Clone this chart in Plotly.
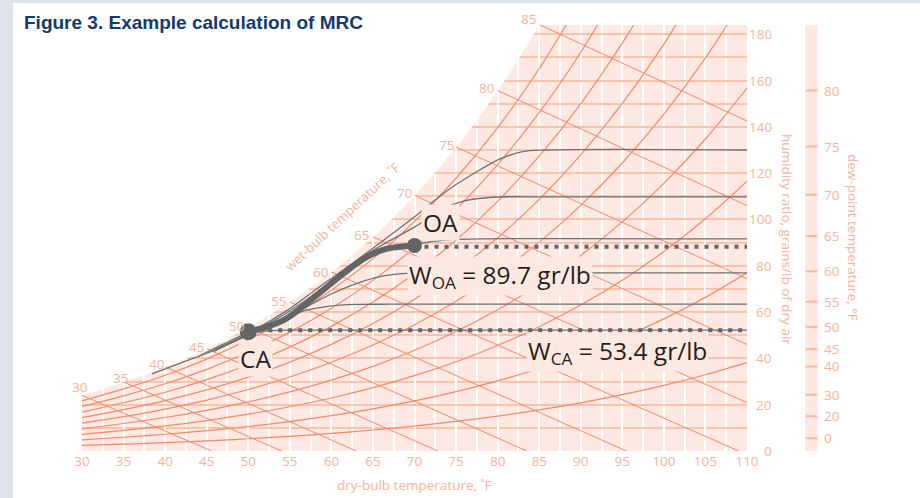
import plotly.graph_objects as go

# ---------------- data ----------------
# saturation vapour pressure table (psia) at the chart's dry-bulb grid temperatures
table_T = [30, 35, 40, 45, 50, 55, 60, 65, 70, 75, 80, 85, 90, 95, 100, 105, 110]
table_pws = [0.08077, 0.09998, 0.12173, 0.14756, 0.17812, 0.21413, 0.25638, 0.30578,
             0.36334, 0.43016, 0.50745, 0.59659, 0.69904, 0.81640, 0.95044, 1.1031, 1.2766]
P_atm = 14.696
rh_levels = [0.1, 0.2, 0.3, 0.4, 0.5, 0.6, 0.7, 0.8, 0.9]

# wet-bulb lines: start on saturation curve, end points
wb_T = [30, 35, 40, 45, 50, 55, 60, 65, 70, 75, 80, 85]
wb_end_T = [45.6, 54.0, 63.0, 72.8, 83.5, 95.5, 109.0, 110, 110, 110, 110, 110]
wb_end_W = [0, 0, 0, 0, 0, 0, 0, 20.9, 46.0, 74.4, 106.0, 142.5]

# axes
x_ticks = [30, 35, 40, 45, 50, 55, 60, 65, 70, 75, 80, 85, 90, 95, 100, 105, 110]
w_ticks = [0, 20, 40, 60, 80, 100, 120, 140, 160, 180]
dp_ticks = [0, 20, 30, 40, 45, 50, 55, 60, 65, 70, 75, 80]
dp_tick_W = [5.5, 15.0, 24.3, 36.5, 44.0, 53.6, 64.5, 77.6, 92.8, 110.7, 131.5, 155.7]

# process CA -> OA
ca_T, ca_W = 50, 51.5
oa_T, oa_W = 70, 88.8
ca_line_W = 52.2
oa_line_W = 88.2
ca_label_W = 53.4
oa_label_W = 89.7
proc_T = [50, 54.2, 58.2, 61.4, 64.2, 66.6, 70]
proc_W = [51.5, 56.4, 67.2, 76.5, 83.7, 87.3, 88.8]

# thin grey curves
g_curves = [
    ([44.0, 47.0, 50.0, 53.0, 56.0, 60.0, 110.0],
     [40.8, 46.2, 50.8, 52.0, 52.2, 52.2, 52.2]),
    ([38.4, 42.0, 45.8, 49.4, 51.8, 54.5, 57.0, 59.8, 63.0, 67.0, 110.0],
     [33.3, 38.2, 43.3, 49.1, 53.0, 57.5, 60.8, 62.6, 63.3, 63.4, 63.4]),
    ([45.8, 49.0, 52.0, 54.5, 57.4, 59.8, 63.0, 66.0, 69.0, 73.0, 110.0],
     [42.9, 48.5, 53.5, 58.0, 63.0, 67.5, 72.3, 75.4, 76.7, 76.9, 76.9]),
    ([50.0, 54.0, 58.0, 62.0, 66.0, 70.0, 74.0, 78.0, 110.0],
     [51.0, 56.0, 66.5, 77.5, 86.0, 89.3, 91.2, 91.6, 91.6]),
    ([46.0, 50.0, 55.0, 59.0, 62.8, 66.5, 70.0, 73.4, 76.0, 79.4, 84.0, 110.0],
     [43.5, 50.3, 60.5, 70.5, 81.6, 89.8, 96.7, 104.5, 108.0, 109.6, 109.8, 109.8]),
    ([46.0, 50.0, 55.0, 59.0, 63.0, 67.0, 70.2, 72.0, 74.3, 77.9, 80.5, 83.0, 86.0, 110.0],
     [43.8, 50.8, 61.5, 72.0, 82.3, 93.0, 101.7, 107.0, 113.4, 121.5, 126.5, 129.3, 130.0, 130.0]),
]

# ---------------- styles ----------------
PEACH = "#fde9e1"
GRID_H = "#f9c4ae"
LINE_SAL = "#f4876a"
TXT_SAL = "#f6b39a"
GREY = "#6f7073"
DARK = "#636466"
FONT = "Open Sans"
W_MAX = 184


def w_of(rh, pws):
    pw = rh * pws
    return 7000 * 0.62198 * pw / (P_atm - pw)


sat_W = [w_of(1.0, p) for p in table_pws]

fig = go.Figure()

# white area above saturation curve (hides the grid there)
fig.add_trace(go.Scatter(x=[29, 91], y=[260, 260], mode="lines",
                         line=dict(width=0, color="white"), hoverinfo="skip"))
fig.add_trace(go.Scatter(x=table_T[:13], y=sat_W[:13], mode="lines",
                         line=dict(width=0.5, color="white", shape="spline"),
                         fill="tonexty", fillcolor="white", hoverinfo="skip"))

# relative humidity curves
for rh in rh_levels:
    xs, ys = [], []
    for t, p in zip(table_T, table_pws):
        w = w_of(rh, p)
        xs.append(t)
        ys.append(w)
        if w > W_MAX:
            break
    fig.add_trace(go.Scatter(x=xs, y=ys, mode="lines", hoverinfo="skip",
                             line=dict(color=LINE_SAL, width=1.2, shape="spline")))

# wet-bulb lines
for t, te, we in zip(wb_T, wb_end_T, wb_end_W):
    ws = sat_W[table_T.index(t)]
    fig.add_trace(go.Scatter(x=[t, te], y=[ws, we], mode="lines", hoverinfo="skip",
                             line=dict(color=LINE_SAL, width=1.0)))

# thin grey curves
for gx, gy in g_curves:
    fig.add_trace(go.Scatter(x=gx, y=gy, mode="lines", hoverinfo="skip",
                             line=dict(color=GREY, width=1.3, shape="spline")))

# dotted lines
fig.add_trace(go.Scatter(x=[ca_T, 110], y=[ca_line_W, ca_line_W], mode="lines",
                         line=dict(color=DARK, width=4, dash="4px,6px"), hoverinfo="skip"))
fig.add_trace(go.Scatter(x=[oa_T, 110], y=[oa_line_W, oa_line_W], mode="lines",
                         line=dict(color=DARK, width=4, dash="4px,6px"), hoverinfo="skip"))

# process curve
fig.add_trace(go.Scatter(x=proc_T, y=proc_W, mode="lines", hoverinfo="skip",
                         line=dict(color=DARK, width=6, shape="spline")))
fig.add_trace(go.Scatter(x=[ca_T], y=[ca_W], mode="markers", hoverinfo="skip",
                         marker=dict(color=DARK, size=17)))
fig.add_trace(go.Scatter(x=[oa_T], y=[oa_W], mode="markers", hoverinfo="skip",
                         marker=dict(color=DARK, size=15)))

ann = []
C = dict(xanchor="center", yanchor="middle")
# wet-bulb labels along saturation curve
wb_dx = [-2, -3, -8, -10, -11, -11, -10.5, -11, -9.5, -9.5, -11, -11]
wb_dy = [8, 4, 3, 2, 1, 1, 0.5, 2, 2, 2.5, 2, 5]
for t, dx, dy in zip(wb_T, wb_dx, wb_dy):
    w = sat_W[table_T.index(t)]
    ann.append(dict(x=(t - 30) / 80, y=w / W_MAX, xref="paper", yref="paper",
                    text=str(t), showarrow=False, xshift=dx, yshift=dy, **C,
                    font=dict(family=FONT, size=13.5, color=TXT_SAL)))

ann.append(dict(x=(342 - 82) / 665, y=(451 - 217) / 426, xref="paper", yref="paper",
                text="wet-bulb temperature, ˚F", textangle=-43, showarrow=False, **C,
                font=dict(family=FONT, size=13, color=TXT_SAL)))

# labels for points
lab_font = dict(family=FONT, size=24.5, color="#231f20")
ann.append(dict(x=73.1, y=98.5, text="OA", showarrow=False, bgcolor=PEACH,
                font=lab_font, borderpad=1, **C))
ann.append(dict(x=50.9, y=39.9, text="CA", showarrow=False, bgcolor=PEACH,
                font=lab_font, borderpad=1, **C))
ann.append(dict(x=80.3, y=75.6, text="W<sub>OA</sub> = %.1f gr/lb" % oa_label_W,
                showarrow=False, bgcolor=PEACH, font=lab_font, borderpad=1, **C))
ann.append(dict(x=94.4, y=42.8, text="W<sub>CA</sub> = %.1f gr/lb" % ca_label_W,
                showarrow=False, bgcolor=PEACH, font=lab_font, borderpad=1, **C))

# axis titles
ann.append(dict(x=0.5, y=(451 - 485) / 426, xref="paper", yref="paper",
                text="dry-bulb temperature, ˚F", showarrow=False, **C,
                font=dict(family=FONT, size=13.5, color=TXT_SAL)))
ann.append(dict(x=(787 - 82) / 665, y=(451 - 239) / 426, xref="paper", yref="paper",
                text="humidity ratio, grains/lb of dry air", textangle=90, showarrow=False, **C,
                font=dict(family=FONT, size=13.5, color=TXT_SAL)))
ann.append(dict(x=(853 - 82) / 665, y=(451 - 237) / 426, xref="paper", yref="paper",
                text="dew-point temperature, °F", textangle=90, showarrow=False, **C,
                font=dict(family=FONT, size=13.5, color=TXT_SAL)))

# humidity-ratio scale labels (right-aligned, placed on the y scale)
for v in w_ticks:
    ann.append(dict(x=(774 - 82) / 665, y=v, xref="paper", yref="y", text=str(v),
                    showarrow=False, xanchor="right", yanchor="middle",
                    font=dict(family=FONT, size=13.5, color=TXT_SAL)))

# dew-point scale labels
for d, w in zip(dp_ticks, dp_tick_W):
    ann.append(dict(x=(822 - 82) / 665, y=w, xref="paper", yref="y", text=str(d),
                    showarrow=False, xanchor="left", yanchor="middle",
                    font=dict(family=FONT, size=13.5, color=TXT_SAL)))

# title
ann.append(dict(x=(22 - 82) / 665, y=(451 - 22) / 426, xref="paper", yref="paper",
                text="<b>Figure 3. Example calculation of MRC</b>", showarrow=False,
                xanchor="left", yanchor="middle",
                font=dict(family="Liberation Sans, Arial", size=19, color="#123a72")))

shapes = []
# page edge strips
shapes.append(dict(type="rect", xref="paper", yref="paper", x0=-82 / 665, x1=(13 - 82) / 665,
                   y0=-47 / 426, y1=451 / 426, fillcolor="#dde4ed", line=dict(width=0)))
shapes.append(dict(type="rect", xref="paper", yref="paper", x0=-82 / 665, x1=838 / 665,
                   y0=(451 - 3) / 426, y1=451 / 426, fillcolor="#dde4ed", line=dict(width=0)))
# dew-point bar
shapes.append(dict(type="rect", xref="paper", yref="paper", x0=(805 - 82) / 665,
                   x1=(818 - 82) / 665, y0=0, y1=1, fillcolor=PEACH, line=dict(width=0)))
for w in dp_tick_W:
    shapes.append(dict(type="line", xref="paper", yref="y", x0=(806 - 82) / 665,
                       x1=(817 - 82) / 665, y0=w, y1=w, line=dict(color="#f8b89f", width=2)))

fig.update_layout(
    width=920, height=498,
    margin=dict(l=82, r=173, t=25, b=47),
    paper_bgcolor="white", plot_bgcolor=PEACH,
    showlegend=False,
    annotations=ann, shapes=shapes,
    xaxis=dict(range=[30, 110], tickvals=x_ticks, ticks="", showline=False, zeroline=False,
               showgrid=True, gridcolor="white", gridwidth=1.5,
               minor=dict(tickmode="linear", tick0=30, dtick=2.5, showgrid=True,
                          gridcolor="white", gridwidth=1.5),
               tickfont=dict(family=FONT, size=13.5, color=TXT_SAL), automargin=False),
    yaxis=dict(range=[0, W_MAX], side="right", tickvals=w_ticks, showticklabels=False,
               ticks="", showline=False,
               zeroline=False, showgrid=True, gridcolor=GRID_H, gridwidth=2,
               minor=dict(tickmode="linear", tick0=0, dtick=10, showgrid=True,
                          gridcolor=GRID_H, gridwidth=2),
               automargin=False),
)

fig.write_html("out.html", config={"displayModeBar": False},
               post_script="document.body.style.margin='0';")
